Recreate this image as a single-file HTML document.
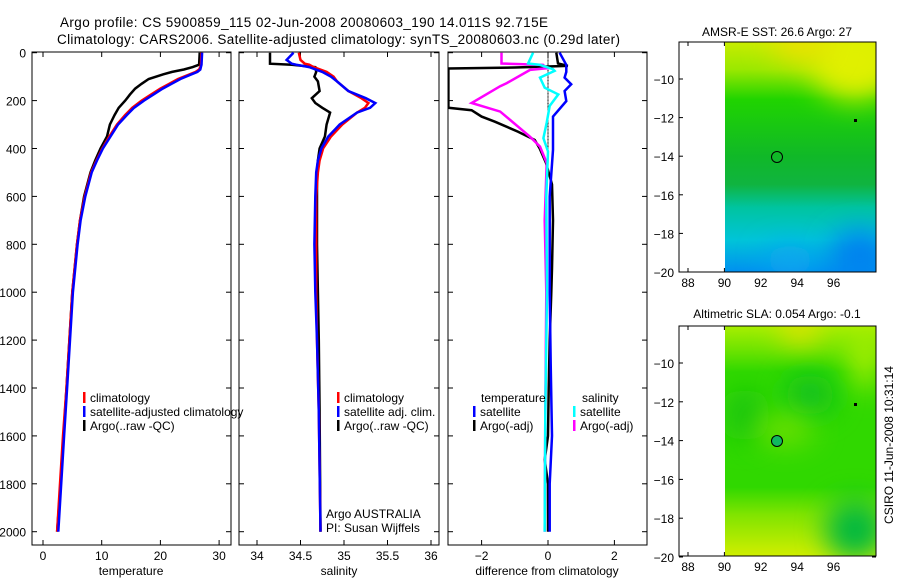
<!DOCTYPE html>
<html><head><meta charset="utf-8"><style>
html,body{margin:0;padding:0;background:#fff;}
svg text{font-family:"Liberation Sans",sans-serif;fill:#000;}
</style></head><body>
<svg id="c" width="900" height="580" viewBox="0 0 900 580" xmlns="http://www.w3.org/2000/svg">
<defs>
<clipPath id="cp1"><rect x="32" y="52" width="199" height="493"/></clipPath>
<clipPath id="cp2"><rect x="239" y="52" width="200" height="493"/></clipPath>
<clipPath id="cp3"><rect x="448" y="52" width="199" height="493"/></clipPath>
<linearGradient id="g1" x1="0" y1="0" x2="0" y2="1">
<stop offset="0" stop-color="#c8ec00"/><stop offset="0.12" stop-color="#9ae800"/><stop offset="0.25" stop-color="#20d400"/>
<stop offset="0.5" stop-color="#10b828"/><stop offset="0.62" stop-color="#10b440"/><stop offset="0.72" stop-color="#00c4a0"/>
<stop offset="0.86" stop-color="#00c4d8"/><stop offset="1" stop-color="#0090f0"/></linearGradient>
<linearGradient id="g2" x1="0" y1="0" x2="0" y2="1">
<stop offset="0" stop-color="#a8ee00"/><stop offset="0.1" stop-color="#70e400"/><stop offset="0.2" stop-color="#30d800"/>
<stop offset="0.7" stop-color="#30d800"/><stop offset="0.82" stop-color="#80e400"/><stop offset="1" stop-color="#d0ee00"/></linearGradient>
<filter id="bl" x="-100%" y="-100%" width="300%" height="300%"><feGaussianBlur stdDeviation="14"/></filter>
<clipPath id="m1"><rect x="725" y="42" width="151" height="230"/></clipPath>
<clipPath id="m2"><rect x="725" y="326" width="151" height="230"/></clipPath>
</defs>
<text x="60" y="27" font-size="13.5" textLength="488">Argo profile: CS 5900859_115 02-Jun-2008 20080603_190 14.011S 92.715E</text>
<text x="57" y="44" font-size="13.5" textLength="563">Climatology: CARS2006. Satellite-adjusted climatology: synTS_20080603.nc (0.29d later)</text>
<g id="plots"></g>
<g>
<text x="777" y="36" font-size="12" text-anchor="middle">AMSR-E SST: 26.6 Argo: 27</text>
<g clip-path="url(#m1)">
<rect x="725" y="42" width="151" height="230" fill="url(#g1)"/>
<ellipse cx="855" cy="60" rx="45" ry="40" fill="#e0f000" filter="url(#bl)"/>
<ellipse cx="800" cy="45" rx="30" ry="15" fill="#f0e000" filter="url(#bl)"/>
<ellipse cx="860" cy="255" rx="30" ry="25" fill="#0080f0" filter="url(#bl)"/>
<ellipse cx="790" cy="260" rx="25" ry="15" fill="#10a8f0" filter="url(#bl)"/>
</g>
<rect x="679" y="42" width="197" height="230" fill="none" stroke="#000"/>
<circle cx="777" cy="157" r="5.5" fill="none" stroke="#000"/>
<rect x="854" y="119" width="3" height="3" fill="#000"/>
</g>
<g>
<text x="777" y="318" font-size="12" text-anchor="middle">Altimetric SLA: 0.054 Argo: -0.1</text>
<g clip-path="url(#m2)">
<rect x="725" y="326" width="151" height="230" fill="url(#g2)"/>
<ellipse cx="800" cy="330" rx="20" ry="12" fill="#f0e000" filter="url(#bl)"/>
<ellipse cx="865" cy="360" rx="14" ry="30" fill="#b0f000" filter="url(#bl)"/>
<ellipse cx="855" cy="530" rx="30" ry="30" fill="#00b840" filter="url(#bl)"/>
<ellipse cx="810" cy="395" rx="25" ry="20" fill="#10c020" filter="url(#bl)"/>
<ellipse cx="745" cy="415" rx="15" ry="25" fill="#18c018" filter="url(#bl)"/>
<ellipse cx="785" cy="430" rx="30" ry="15" fill="#70e000" filter="url(#bl)"/>
</g>
<rect x="679" y="326" width="197" height="230" fill="none" stroke="#000"/>
<circle cx="777" cy="441" r="5.5" fill="#10b860" stroke="#000"/>
<rect x="854" y="403" width="3" height="3" fill="#000"/>
</g>
<text transform="translate(893,445) rotate(-90)" font-size="12" text-anchor="middle">CSIRO 11-Jun-2008 10:31:14</text>
</svg>
<script>
const depthTicks=[0,200,400,600,800,1000,1200,1400,1600,1800,2000];
const tempTicks=[0,10,20,30];
const salTicks=[34,34.5,35,35.5,36];
const salTickLabels=["34","34.5","35","35.5","36"];
const diffTicks=[-2,0,2];
const lonTicks=[88,90,92,94,96];
const latTicks=[-10,-12,-14,-16,-18,-20];
const tDepth=[0,50,60,70,80,90,110,130,150,175,200,230,260,300,350,400,450,500,600,700,800,1000,1200,1400,1600,1800,2000];
const tArgo=[26.7,26.6,25.5,24,22,20.5,18,16.8,15.7,14.8,14,12.9,12.2,11.4,10.9,9.8,8.9,8.1,7.0,6.3,5.8,5.0,4.5,4.0,3.5,3.0,2.4];
const tClim=[27,26.9,26.8,26.6,26,25,23,21.5,20,18.4,16.8,15.2,14,12.6,11.3,10.1,9.1,8.2,7.1,6.3,5.8,5.0,4.5,4.0,3.4,2.9,2.4];
const tSat=[27.1,27,26.9,26.8,26.3,25.3,23.4,21.9,20.4,18.8,17.2,15.5,14.3,12.8,11.5,10.2,9.2,8.3,7.2,6.4,5.9,5.1,4.6,4.1,3.6,3.1,2.6];
const sDepth=[0,30,46,50,60,80,100,120,160,190,210,230,250,300,350,400,450,500,600,800,1000,1200,1500,2000];
const sArgo=[34.15,34.15,34.15,34.4,34.67,34.68,34.66,34.7,34.72,34.63,34.67,34.75,34.84,34.8,34.78,34.72,34.7,34.69,34.69,34.69,34.7,34.71,34.72,34.73];
const sClim=[34.48,34.5,34.55,34.6,34.65,34.8,34.88,34.92,35.05,35.2,35.28,35.24,35.15,34.98,34.85,34.76,34.72,34.7,34.68,34.68,34.68,34.69,34.71,34.73];
const sSat=[34.42,34.34,34.4,34.45,34.6,34.75,34.85,34.92,35.05,35.25,35.36,35.3,35.15,34.95,34.82,34.74,34.7,34.68,34.67,34.66,34.67,34.69,34.71,34.73];
const dTArgoDepth=[0,45,55,62,66,230,240,267,288,330,364,400,460,550,700,900,1000,1200,1400,1600,1700,1800,2000];
const dTArgo=[0.25,0.3,0.6,-1,-3,-3,-2.3,-2.0,-1.6,-0.9,-0.4,-0.25,-0.06,0.12,0.15,0.12,0.1,0.05,0.02,0,-0.1,0,0];
const dSArgoDepth=[0,45,51,65,72,127,140,210,246,281,351,392,460,700,1000,1500,2000];
const dSArgo=[-1.4,-1.4,-0.15,-0.04,-0.54,-1.24,-1.44,-2.3,-1.44,-1.14,-0.54,-0.24,-0.04,-0.1,-0.05,-0.08,-0.1];
const dSSatDepth=[0,45,51,69,76,104,146,174,222,292,357,412,600,1000,1500,2000];
const dSSat=[-0.45,-0.6,-0.24,0.15,0.2,-0.24,-0.1,0.31,0.05,-0.04,-0.14,0,-0.05,-0.03,-0.08,-0.1];
const dTSatDepth=[0,51,80,104,132,160,202,267,406,600,1000,1300,1600,1800,2000];
const dTSat=[0.35,0.55,0.55,0.5,0.7,0.5,0.55,0.15,0.15,0.05,0.05,0.08,0.12,0.05,0.05];

const yD=d=>52.7+d*0.2395;
const xT=t=>43+t*5.87;
const xS=s=>257+(s-34)*87;
const xDf=v=>548+v*33.2;
const xLon=l=>688+(l-88)*18.2;
const yLat1=l=>79+(-10-l)*19.3;
const yLat2=l=>363+(-10-l)*19.4;

const NS="http://www.w3.org/2000/svg";
const root=document.getElementById('plots');
function mk(tag,attrs,parent){const e=document.createElementNS(NS,tag);for(const k in attrs)e.setAttribute(k,attrs[k]);(parent||root).appendChild(e);return e;}
function txt(x,y,s,anchor,parent){const e=mk('text',{x:x,y:y,'font-size':12,'text-anchor':anchor||'start'},parent);e.textContent=s;return e;}
function line(xf,xs,ys,color,clip,name){
  let d='';for(let i=0;i<xs.length;i++){d+=(i?'L':'M')+xf(xs[i]).toFixed(1)+' '+yD(ys[i]).toFixed(1);}
  const p=mk('path',{d:d,fill:'none',stroke:color,'stroke-width':2.5,'clip-path':'url(#'+clip+')'});
  
  
}
function frame(x0,x1,name){
  const r=mk('rect',{x:x0,y:52,width:x1-x0,height:493,fill:'none',stroke:'#000'});
  
  
  depthTicks.forEach(d=>{const y=yD(d);mk('line',{x1:x0,x2:x0+5,y1:y,y2:y,stroke:'#000'});mk('line',{x1:x1-5,x2:x1,y1:y,y2:y,stroke:'#000'});});
}
frame(32,231,'temperature-panel');
frame(239,439,'salinity-panel');
frame(448,647,'difference-panel');
depthTicks.forEach(d=>{const t=txt(26,yD(d)+5,String(d),'end');});
tempTicks.forEach(v=>{const x=xT(v);mk('line',{x1:x,x2:x,y1:545,y2:540,stroke:'#000'});mk('line',{x1:x,x2:x,y1:52,y2:57,stroke:'#000'});const t=txt(x,560,String(v),'middle');});
salTicks.forEach((v,i)=>{const x=xS(v);mk('line',{x1:x,x2:x,y1:545,y2:540,stroke:'#000'});mk('line',{x1:x,x2:x,y1:52,y2:57,stroke:'#000'});const t=txt(x,560,salTickLabels[i],'middle');});
diffTicks.forEach(v=>{const x=xDf(v);mk('line',{x1:x,x2:x,y1:545,y2:540,stroke:'#000'});mk('line',{x1:x,x2:x,y1:52,y2:57,stroke:'#000'});const t=txt(x,560,v<0?'\u2212'+(-v):String(v),'middle');});
let a=txt(xT(15),575,'temperature','middle');
a=txt(339,575,'salinity','middle');
a=txt(547,575,'difference from climatology','middle');
for(let d=0;d<400;d+=6){mk('rect',{x:547.5,y:yD(d),width:1,height:1,fill:'#000'});}
line(xT,tArgo,tDepth,'#000','cp1','temperature-argo-line');
line(xT,tClim,tDepth,'#f00','cp1','temperature-climatology-line');
line(xT,tSat,tDepth,'#00f','cp1','temperature-satellite-line');
line(xS,sArgo,sDepth,'#000','cp2','salinity-argo-line');
line(xS,sClim,sDepth,'#f00','cp2','salinity-climatology-line');
line(xS,sSat,sDepth,'#00f','cp2','salinity-satellite-line');
line(xDf,dTArgo,dTArgoDepth,'#000','cp3','temp-diff-argo-line');
line(xDf,dSArgo,dSArgoDepth,'#f0f','cp3','sal-diff-argo-line');
line(xDf,dTSat,dTSatDepth,'#00f','cp3','temp-diff-satellite-line');
line(xDf,dSSat,dSSatDepth,'#0ff','cp3','sal-diff-satellite-line');
function leg(x,y,color,label,name){
  const g=mk('g',{});
  
  
  mk('rect',{x:x,y:y-10,width:2.5,height:11,fill:color},g);
  txt(x+7,y,label,'start',g);
}
leg(83,402,'#f00','climatology','legend-climatology');
leg(83,416,'#00f','satellite-adjusted climatology','legend-satellite-adjusted');
leg(83,430,'#000','Argo(..raw -QC)','legend-argo');
leg(337,402,'#f00','climatology','legend-sal-climatology');
leg(337,416,'#00f','satellite adj. clim.','legend-sal-satellite');
leg(337,430,'#000','Argo(..raw -QC)','legend-sal-argo');
a=txt(481,402,'temperature');
a=txt(582,402,'salinity');
leg(473,416,'#00f','satellite','legend-temp-satellite');
leg(473,430,'#000','Argo(-adj)','legend-temp-argo');
leg(573,416,'#0ff','satellite','legend-sal-satellite-diff');
leg(573,430,'#f0f','Argo(-adj)','legend-sal-argo-diff');
a=txt(326,518,'Argo AUSTRALIA');
a=txt(326,532,'PI: Susan Wijffels');
[[42,272,yLat1],[326,556,yLat2]].forEach(([top,bot,yl],mi)=>{
  lonTicks.forEach(l=>{const x=xLon(l);mk('line',{x1:x,x2:x,y1:bot,y2:bot-4,stroke:'#000'});mk('line',{x1:x,x2:x,y1:top,y2:top+4,stroke:'#000'});const t=txt(x,bot+15,String(l),'middle');});
  latTicks.forEach(l=>{const y=yl(l);mk('line',{x1:679,x2:683,y1:y,y2:y,stroke:'#000'});mk('line',{x1:872,x2:876,y1:y,y2:y,stroke:'#000'});const t=txt(674,y+5,'\u2212'+(-l),'end');});
});
</script>
</body></html>
